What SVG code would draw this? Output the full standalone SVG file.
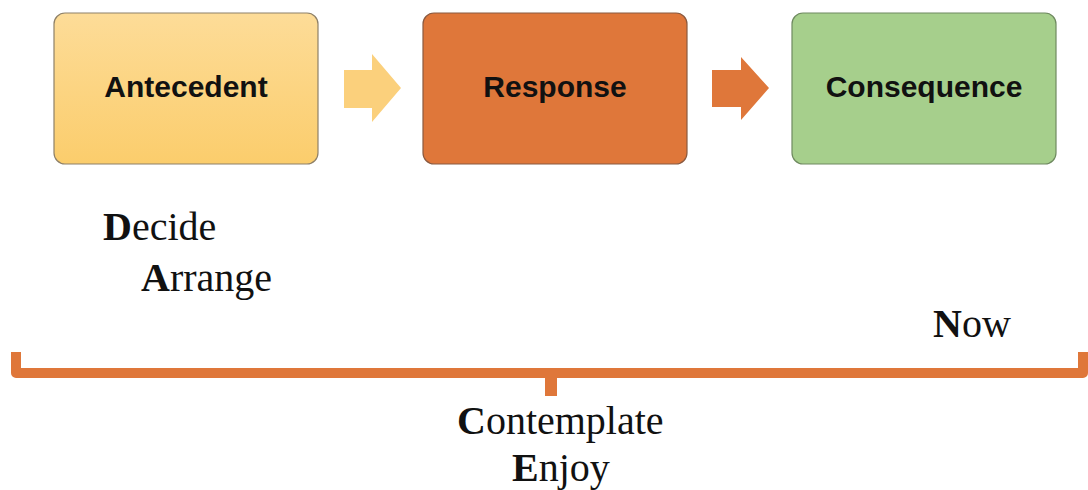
<svg xmlns="http://www.w3.org/2000/svg" width="1088" height="490" viewBox="0 0 1088 490">
<defs>
<linearGradient id="gA" x1="0" y1="0" x2="0" y2="1">
<stop offset="0" stop-color="#FDDC98"/>
<stop offset="1" stop-color="#FBCD6C"/>
</linearGradient>
<style>
.box{stroke-width:1.2}
.lbl{font-family:"Liberation Sans",Arial,sans-serif;font-weight:bold;font-size:30px;text-anchor:middle;fill:#111}
.ser{font-family:"Liberation Serif","Times New Roman",serif;font-size:40px;fill:#111}
.ser tspan.b{font-weight:bold}
.br{fill:none;stroke:#DF773A;stroke-width:10;stroke-linejoin:round}
</style>
</defs>
<rect width="1088" height="490" fill="#fff"/>
<g id="antecedent">
<rect class="box" x="54" y="13" width="264" height="151" rx="11" fill="url(#gA)" stroke="#8E8068"/>
<text class="lbl" x="186" y="97">Antecedent</text>
</g>
<g id="response">
<rect class="box" x="423" y="13" width="264" height="151" rx="11" fill="#DF773A" stroke="#8A5A40"/>
<text class="lbl" x="555" y="97">Response</text>
</g>
<g id="consequence">
<rect class="box" x="792" y="13" width="264" height="151" rx="11" fill="#A6CF8C" stroke="#6F8A60"/>
<text class="lbl" x="924" y="97">Consequence</text>
</g>
<g id="connectors">
<polygon points="344,70 372,70 372,54 401,88 372,122 372,108 344,108" fill="#FBD07C"/>
<polygon points="712,70 741,70 741,57 769,88 741,120 741,107 712,107" fill="#DF773A"/>
</g>
<g id="bracket">
<path class="br" d="M16,352 V373 H1083 V352"/>
<line x1="551" y1="373" x2="551" y2="396" stroke="#DF773A" stroke-width="12"/>
</g>
<g id="labels">
<text class="ser" x="103" y="240"><tspan class="b">D</tspan>ecide</text>
<text class="ser" x="141" y="291"><tspan class="b">A</tspan>rrange</text>
<text class="ser" x="933" y="337"><tspan class="b">N</tspan>ow</text>
<text class="ser" x="457" y="434"><tspan class="b">C</tspan>ontemplate</text>
<text class="ser" x="512" y="481"><tspan class="b">E</tspan>njoy</text>
</g>
</svg>
